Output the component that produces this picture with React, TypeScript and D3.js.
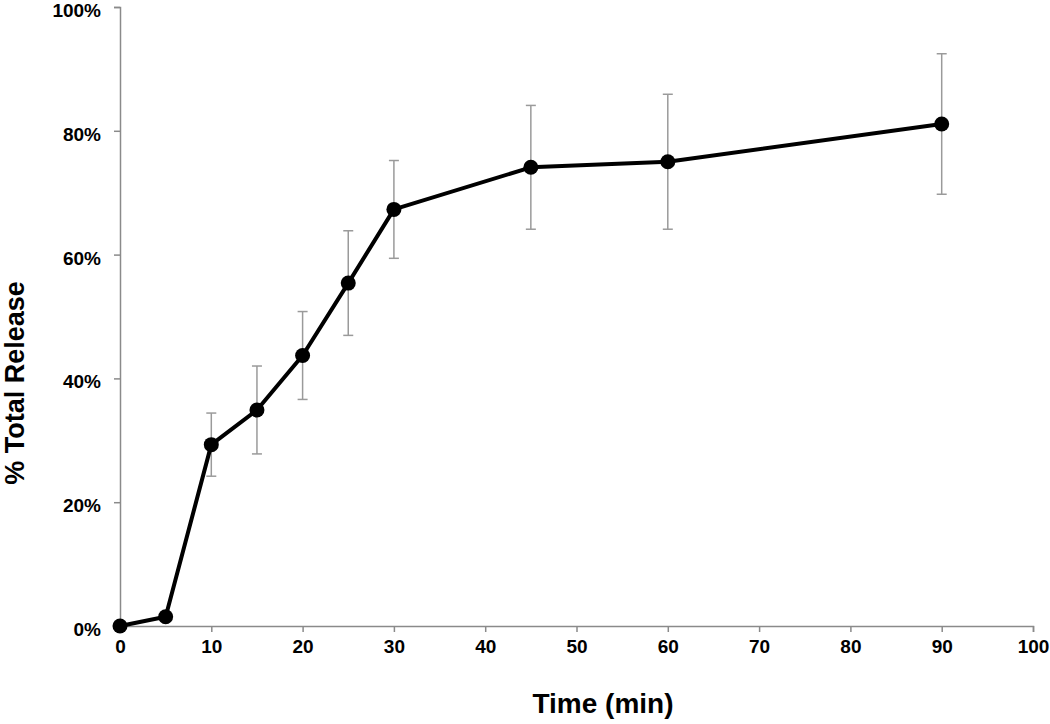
import React, { useEffect, useRef } from 'react';
import * as d3 from 'd3';

// time points (min)
const times = [0, 5, 10, 15, 20, 25, 30, 45, 60, 90];
// mean % total release
const release = [0, 1.5, 29.3, 34.9, 43.7, 55.4, 67.3, 74.1, 75.0, 81.1];
// standard deviation (error bar half length), %
const errors = [0, 0, 5.1, 7.1, 7.1, 8.45, 7.9, 10.0, 10.9, 11.35];

const xTicks = [0, 10, 20, 30, 40, 50, 60, 70, 80, 90, 100];
const yTicks = [0, 20, 40, 60, 80, 100];

export default function App() {
    const ref = useRef<SVGSVGElement>(null);

    useEffect(() => {
        const width = 1050;
        const height = 724;
        const left = 120;
        const right = 1033;
        const top = 7;
        const bottom = 626;
        const font = "'Liberation Sans', Arial, sans-serif";

        const svg = d3.select(ref.current);
        svg.selectAll('*').remove();

        const x_scale = d3.scaleLinear().domain([0, 100]).range([left, right]);
        const y_scale = d3.scaleLinear().domain([0, 100]).range([bottom, top]);

        // x axis
        const x_axis = d3.axisBottom(x_scale)
            .tickValues(xTicks)
            .tickSizeInner(6)
            .tickSizeOuter(6)
            .tickPadding(8)
            .tickFormat(d => String(d));
        const gx = svg.append('g')
            .attr('transform', 'translate(0,' + bottom + ')')
            .call(x_axis);
        gx.select('.domain').attr('stroke', '#8a8a8a').attr('stroke-width', 1.5);
        gx.selectAll('.tick line').attr('stroke', '#8a8a8a').attr('stroke-width', 1.5);
        gx.selectAll('.tick text')
            .attr('fill', '#000')
            .style('font-family', font)
            .style('font-size', '19px')
            .style('font-weight', 'bold');

        // y axis
        const y_axis = d3.axisLeft(y_scale)
            .tickValues(yTicks)
            .tickSizeInner(6)
            .tickSizeOuter(6)
            .tickPadding(13)
            .tickFormat(d => d + '%');
        const gy = svg.append('g')
            .attr('transform', 'translate(' + left + ',0)')
            .call(y_axis);
        gy.select('.domain').attr('stroke', '#8a8a8a').attr('stroke-width', 1.5);
        gy.selectAll('.tick line').attr('stroke', '#8a8a8a').attr('stroke-width', 1.5);
        gy.selectAll('.tick text')
            .attr('fill', '#000')
            .attr('dy', '0.5em')
            .style('font-family', font)
            .style('font-size', '19px')
            .style('font-weight', 'bold');

        // axis titles
        svg.append('text')
            .attr('x', 603)
            .attr('y', 713)
            .attr('text-anchor', 'middle')
            .style('font-family', font)
            .style('font-size', '28px')
            .style('font-weight', 'bold')
            .text('Time (min)');

        svg.append('text')
            .attr('transform', 'translate(24,383) rotate(-90)')
            .attr('text-anchor', 'middle')
            .style('font-family', font)
            .style('font-size', '27px')
            .style('font-weight', 'bold')
            .text('% Total Release');

        const data = times.map((t, i) => ({ t: t, v: release[i], e: errors[i] }));

        // error bars
        const bars = svg.append('g')
            .attr('stroke', '#9a9a9a')
            .attr('stroke-width', 1.5)
            .selectAll('g')
            .data(data.filter(d => d.e > 0))
            .enter()
            .append('g');
        bars.append('line')
            .attr('x1', d => x_scale(d.t))
            .attr('x2', d => x_scale(d.t))
            .attr('y1', d => y_scale(d.v + d.e))
            .attr('y2', d => y_scale(d.v - d.e));
        bars.append('line')
            .attr('x1', d => x_scale(d.t) - 5)
            .attr('x2', d => x_scale(d.t) + 5)
            .attr('y1', d => y_scale(d.v + d.e))
            .attr('y2', d => y_scale(d.v + d.e));
        bars.append('line')
            .attr('x1', d => x_scale(d.t) - 5)
            .attr('x2', d => x_scale(d.t) + 5)
            .attr('y1', d => y_scale(d.v - d.e))
            .attr('y2', d => y_scale(d.v - d.e));

        // line
        const line = d3.line<{ t: number; v: number }>()
            .x(d => x_scale(d.t))
            .y(d => y_scale(d.v));
        svg.append('path')
            .datum(data)
            .attr('d', line)
            .attr('fill', 'none')
            .attr('stroke', '#000')
            .attr('stroke-width', 4)
            .attr('stroke-linejoin', 'round');

        // dots
        svg.selectAll('.dot')
            .data(data)
            .enter()
            .append('circle')
            .attr('class', 'dot')
            .attr('cx', d => x_scale(d.t))
            .attr('cy', d => y_scale(d.v))
            .attr('r', 7.5)
            .attr('fill', '#000');

        svg.attr('width', width).attr('height', height);
    }, []);

    return (
        <svg
            ref={ref}
            width={1050}
            height={724}
            style={{ position: 'absolute', left: 0, top: 0, background: '#fff' }}
        />
    );
}
